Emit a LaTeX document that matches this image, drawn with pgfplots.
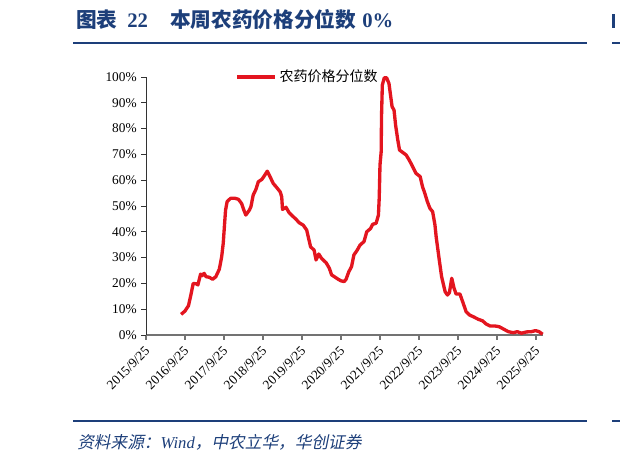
\documentclass[border=0pt]{standalone}
\usepackage{pgfplots}
\pgfplotsset{compat=1.18}
\usepackage{fontspec}
\setmainfont{Liberation Serif}
\newfontfamily\cjk{Noto Sans CJK SC}
\newfontfamily\cjkit[FakeSlant=0.2]{Noto Sans CJK SC}
\definecolor{hcblue}{HTML}{1D3F7A}
\definecolor{hcred}{HTML}{E3151F}
\begin{document}
\begin{tikzpicture}
\path[use as bounding box] (0,0) rectangle (620*0.75pt,-462*0.75pt);
% title
\node[anchor=base west, inner sep=0pt, text=hcblue, font=\cjk\bfseries\fontsize{15.5}{18}\selectfont] at (76*0.75pt,-27*0.75pt) {图表};
\node[anchor=base west, inner sep=0pt, text=hcblue, font=\rmfamily\bfseries\fontsize{15.5}{18}\selectfont] at (127*0.75pt,-27*0.75pt) {22};
\node[anchor=base west, inner sep=0pt, text=hcblue, font=\cjk\bfseries\fontsize{15.5}{18}\selectfont] at (170*0.75pt,-27*0.75pt) {本周农药价格分位数};
\node[anchor=base west, inner sep=0pt, text=hcblue, font=\rmfamily\bfseries\fontsize{15.5}{18}\selectfont] at (362*0.75pt,-27*0.75pt) {0\%};
\fill[hcblue] (612*0.75pt,-14*0.75pt) rectangle (614.5*0.75pt,-28*0.75pt);
\draw[hcblue, line width=1.6pt] (73*0.75pt,-43*0.75pt) -- (587*0.75pt,-43*0.75pt);
\draw[hcblue, line width=1.6pt] (612*0.75pt,-43*0.75pt) -- (620*0.75pt,-43*0.75pt);
% footer
\draw[hcblue, line width=1.6pt] (73*0.75pt,-421*0.75pt) -- (587*0.75pt,-421*0.75pt);
\draw[hcblue, line width=1.6pt] (612*0.75pt,-421*0.75pt) -- (620*0.75pt,-421*0.75pt);
\node[anchor=west, inner sep=0pt, text=hcblue, font=\cjkit\fontsize{12.5}{15}\selectfont] at (77*0.75pt,-442*0.75pt) {资料来源：{\rmfamily\itshape Wind}，中农立华，华创证券};
\begin{axis}[
  at={(146*0.75pt,-335*0.75pt)}, anchor=south west,
  scale only axis, width=297.75pt, height=193.5pt,
  xmin=0, xmax=10.18, ymin=0, ymax=100,
  axis x line=bottom, axis y line=left,
  axis line style={-},
  x axis line style={draw=black!55, line width=0.9pt},
  y axis line style={draw=black!80, line width=0.6pt},
  xtick={0,1,...,10},
  xticklabels={2015/9/25,2016/9/25,2017/9/25,2018/9/25,2019/9/25,2020/9/25,2021/9/25,2022/9/25,2023/9/25,2024/9/25,2025/9/25},
  ytick={0,10,...,100},
  yticklabel={\pgfmathprintnumber{\tick}\%},
  /pgf/number format/assume math mode=true,
  tick align=outside, major tick length=3.5pt,
  xtick style={draw=black!55, line width=0.8pt},
  ytick style={draw=black!80, line width=0.6pt},
  x tick label style={rotate=45, anchor=north east, font=\fontsize{10}{12}\selectfont, inner sep=1pt, xshift=-3pt, yshift=-1pt},
  y tick label style={font=\fontsize{10}{12}\selectfont},
  legend style={at={(0.225,1.0)}, anchor=west, draw=none, fill=none, inner sep=0pt,
    font=\cjk\fontsize{10.5}{12}\selectfont},
  legend cell align=left,
  legend image code/.code={\draw[#1] (0pt,0pt) -- (28.5pt,0pt);},
  clip=false,
]
\addplot[hcred, line width=2.5pt, line join=round] coordinates {
(0.90,8.0)(1.00,9.3)(1.09,11.4)(1.15,15.5)(1.21,20.0)(1.30,19.8)(1.33,19.4)(1.40,23.6)(1.44,23.0)(1.49,23.9)
(1.54,22.6)(1.62,22.4)(1.71,21.6)(1.79,22.6)(1.88,25.5)(1.94,30.3)(1.98,35.5)(2.01,42.0)(2.04,48.4)(2.08,51.7)
(2.17,53.0)(2.28,53.0)(2.37,52.6)(2.45,51.0)(2.51,48.4)(2.56,46.5)(2.65,48.4)(2.69,49.7)(2.75,54.3)(2.82,56.5)
(2.88,59.4)(2.97,60.3)(3.03,61.6)(3.11,63.5)(3.18,61.4)(3.26,58.8)(3.35,57.2)(3.44,55.5)(3.48,53.6)(3.50,48.7)
(3.59,49.5)(3.67,47.4)(3.76,46.1)(3.85,44.8)(3.93,43.5)(4.03,42.6)(4.12,40.7)(4.16,38.1)(4.22,34.2)(4.31,32.9)
(4.36,29.1)(4.43,31.4)(4.50,29.7)(4.62,28.0)(4.70,25.9)(4.76,23.3)(4.85,22.4)(4.93,21.6)(5.00,21.0)(5.08,20.7)
(5.13,21.6)(5.20,24.5)(5.27,26.5)(5.33,31.0)(5.42,33.0)(5.49,34.9)(5.59,36.2)(5.66,40.0)(5.76,41.3)(5.81,42.9)
(5.90,43.3)(5.96,46.5)(5.98,53.0)(6.00,65.9)(6.03,71.0)(6.04,85.3)(6.06,96.9)(6.11,99.7)(6.17,99.7)(6.23,97.5)
(6.27,93.0)(6.31,88.5)(6.36,87.2)(6.40,81.4)(6.45,76.2)(6.50,71.7)(6.58,70.8)(6.67,69.8)(6.75,67.8)(6.84,65.2)
(6.92,62.7)(7.03,61.4)(7.09,57.5)(7.15,54.9)(7.21,51.9)(7.28,49.1)(7.35,47.8)(7.41,42.6)(7.44,38.1)(7.52,29.1)
(7.58,22.6)(7.67,16.8)(7.73,15.5)(7.78,16.4)(7.84,22.0)(7.90,18.1)(7.95,15.9)(8.05,15.9)(8.12,12.9)(8.21,9.0)
(8.29,7.8)(8.39,7.1)(8.52,6.1)(8.63,5.5)(8.72,4.3)(8.82,3.5)(8.95,3.5)(9.06,3.2)(9.18,2.2)(9.29,1.3)
(9.42,0.9)(9.52,1.3)(9.63,0.7)(9.76,1.2)(9.88,1.3)(9.99,1.7)(10.08,1.3)(10.17,0.3)
};
\addlegendentry{农药价格分位数}
\end{axis}
\end{tikzpicture}
\end{document}
